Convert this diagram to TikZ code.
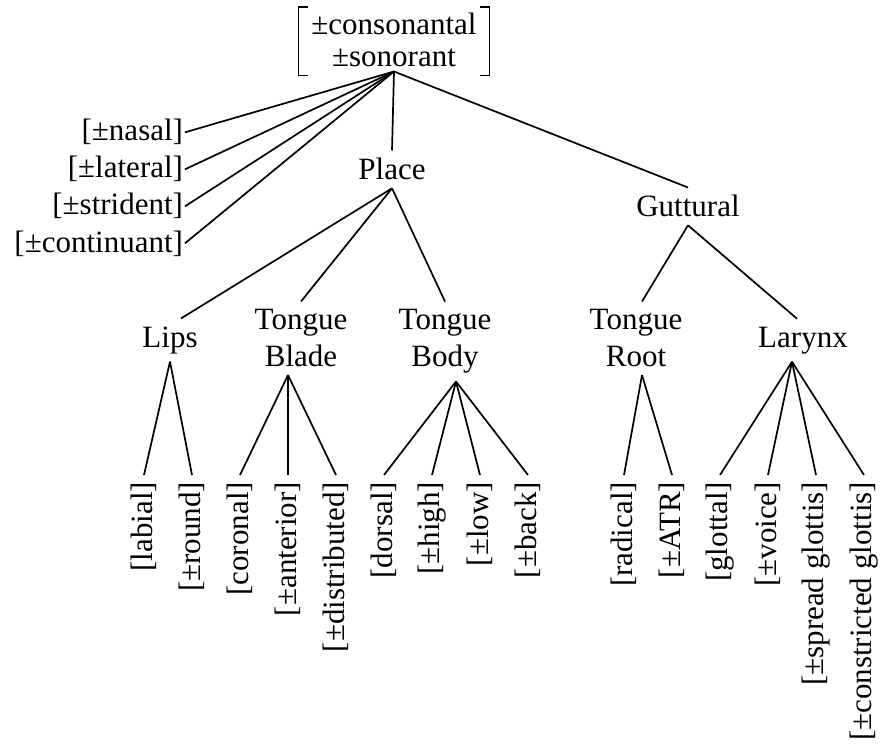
\documentclass[tikz,border=0pt]{standalone}
\usepackage{fontspec}
\setmainfont{Liberation Serif}
\begin{document}
\begin{tikzpicture}[x=1pt,y=-1pt,line width=1.7pt,
        font=\fontsize{31}{37}\selectfont,
        cat/.style={inner sep=0pt,outer sep=8pt,align=center},
        side/.style={inner sep=0pt,outer sep=2pt,anchor=base east},
        leaf/.style={inner sep=0pt,outer xsep=7pt,outer ysep=0pt,rotate=90,anchor=east}]
            \useasboundingbox (0,0) rectangle (889,746);

            % root features
            \node [inner sep=0pt,align=center,anchor=north,font=\fontsize{31}{32}\selectfont] (cs) at (394,12)
                {±consonantal\\±sonorant};
            \draw [line width=1.1pt] ([xshift=-3pt,yshift=5pt]cs.north west) -| ([xshift=-12pt,yshift=-8pt]cs.south west)
                -- ([xshift=-3pt,yshift=-8pt]cs.south west);
            \draw [line width=1.1pt] ([xshift=3pt,yshift=5pt]cs.north east) -| ([xshift=12pt,yshift=-8pt]cs.south east)
                -- ([xshift=3pt,yshift=-8pt]cs.south east);

            \node [side] (nasal) at (185,141) {[±nasal]};
            \node [side] (lateral) at (185,178) {[±lateral]};
            \node [side] (strident) at (185,215) {[±strident]};
            \node [side] (continuant) at (185,252) {[±continuant]};

            % class nodes
            \node [cat,anchor=base] (place) at (392,180) {Place};
            \node [cat,anchor=base] (guttural) at (688,217) {Guttural};
            \node [cat,anchor=base] (lips) at (170,347) {Lips};
            \node [cat,anchor=north] (blade) at (301,301.5) {Tongue\\Blade};
            \node [cat,anchor=north] (body) at (445,301.5) {Tongue\\Body};
            \node [cat,anchor=north] (troot) at (636,301.5) {Tongue\\Root};
            \node [cat,anchor=base] (larynx) at (803,347) {Larynx};

            % terminal features
            \node [leaf] (labial) at (144,475) {[labial]};
            \node [leaf] (round) at (192,475) {[±round]};
            \node [leaf] (coronal) at (240,475) {[coronal]};
            \node [leaf] (anterior) at (288,475) {[±anterior]};
            \node [leaf] (distributed) at (336,475) {[±distributed]};
            \node [leaf] (dorsal) at (384,475) {[dorsal]};
            \node [leaf] (high) at (432,475) {[±high]};
            \node [leaf] (low) at (480,475) {[±low]};
            \node [leaf] (back) at (528,475) {[±back]};
            \node [leaf] (radical) at (624,475) {[radical]};
            \node [leaf] (atr) at (672,475) {[±ATR]};
            \node [leaf] (glottal) at (720,475) {[glottal]};
            \node [leaf] (voice) at (768,475) {[±voice]};
            \node [leaf] (spread) at (816,475) {[±spread glottis]};
            \node [leaf] (constricted) at (864,475) {[±constricted glottis]};

            \draw ([yshift=-4pt]cs.south) -- (nasal.east);
            \draw ([yshift=-4pt]cs.south) -- (lateral.east);
            \draw ([yshift=-4pt]cs.south) -- (strident.east);
            \draw ([yshift=-4pt]cs.south) -- (continuant.east);
            \draw ([yshift=-4pt]cs.south) -- (place.north);
            \draw ([yshift=-4pt]cs.south) -- (guttural.north);

            \draw (place.south) -- ([xshift=11pt]lips.north);
            \draw (place.south) -- (blade.north);
            \draw (place.south) -- (body.north);
            \draw (guttural.south) -- ([xshift=6pt]troot.north);
            \draw (guttural.south) -- ([xshift=-6pt]larynx.north);

            \draw (lips.south) -- (labial.east);
            \draw (lips.south) -- (round.east);

            \draw ([xshift=-13pt]blade.south) -- (coronal.east);
            \draw ([xshift=-13pt]blade.south) -- (anterior.east);
            \draw ([xshift=-13pt]blade.south) -- (distributed.east);

            \draw ([xshift=11pt]body.south) -- (dorsal.east);
            \draw ([xshift=11pt]body.south) -- (high.east);
            \draw ([xshift=11pt]body.south) -- (low.east);
            \draw ([xshift=11pt]body.south) -- (back.east);

            \draw ([xshift=6pt]troot.south) -- (radical.east);
            \draw ([xshift=6pt]troot.south) -- (atr.east);

            \draw ([xshift=-11pt]larynx.south) -- (glottal.east);
            \draw ([xshift=-11pt]larynx.south) -- (voice.east);
            \draw ([xshift=-11pt]larynx.south) -- (spread.east);
            \draw ([xshift=-11pt]larynx.south) -- (constricted.east);

        \end{tikzpicture}
\end{document}
